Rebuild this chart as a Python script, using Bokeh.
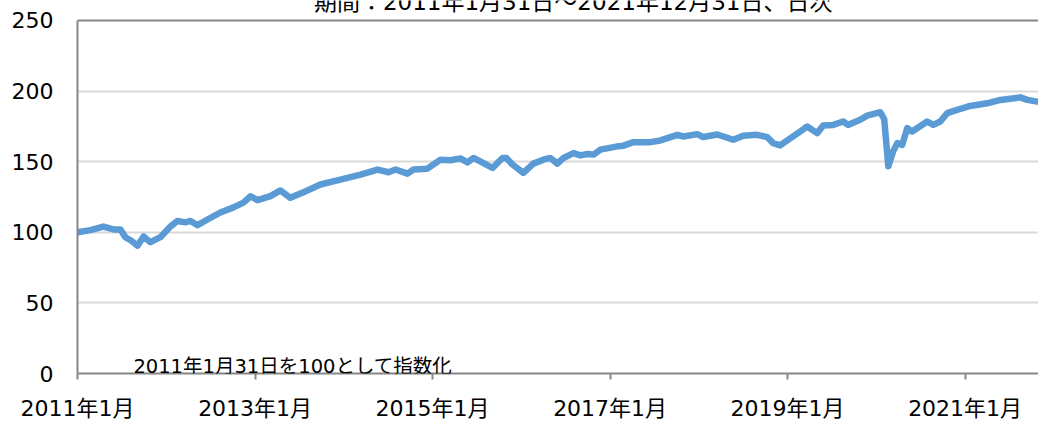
import pandas as pd
from bokeh.plotting import figure
from bokeh.models import FixedTicker, Span, Label, Range1d
from bokeh.embed import file_html
from bokeh.resources import INLINE

# ---- data ----
dates = [
    "2011-01-31", "2011-03-25", "2011-05-18", "2011-06-28", "2011-07-27", "2011-08-16",
    "2011-09-10", "2011-10-05", "2011-10-30", "2011-11-27", "2012-01-07", "2012-02-17",
    "2012-03-17", "2012-04-19", "2012-05-10", "2012-06-08", "2012-07-19", "2012-09-10",
    "2012-11-03", "2012-12-14", "2013-01-12", "2013-02-10", "2013-04-04", "2013-05-15",
    "2013-06-25", "2013-08-18", "2013-10-27", "2014-01-17", "2014-04-10", "2014-06-19",
    "2014-08-03", "2014-09-01", "2014-10-20", "2014-11-14", "2015-01-10", "2015-03-05",
    "2015-04-15", "2015-05-26", "2015-06-24", "2015-07-19", "2015-08-29", "2015-10-05",
    "2015-11-15", "2015-12-01", "2015-12-26", "2016-02-09", "2016-03-21", "2016-05-01",
    "2016-05-30", "2016-06-28", "2016-07-23", "2016-09-02", "2016-10-01", "2016-10-30",
    "2016-11-24", "2016-12-22", "2017-03-02", "2017-03-27", "2017-05-07", "2017-07-16",
    "2017-08-26", "2017-11-04", "2017-11-29", "2018-01-25", "2018-02-18", "2018-04-17",
    "2018-06-22", "2018-08-02", "2018-09-28", "2018-11-08", "2018-12-03", "2019-01-01",
    "2019-01-30", "2019-03-24", "2019-04-22", "2019-06-02", "2019-06-27", "2019-08-07",
    "2019-09-17", "2019-10-07", "2019-11-26", "2019-12-25", "2020-02-17", "2020-03-04",
    "2020-03-21", "2020-04-10", "2020-04-27", "2020-05-17", "2020-06-07", "2020-06-27",
    "2020-08-28", "2020-09-22", "2020-10-21", "2020-11-18", "2020-12-29", "2021-02-21",
    "2021-05-02", "2021-06-25", "2021-09-15", "2021-10-14", "2021-11-24", "2021-12-31",
]
index_values = [
    100.0, 101.5, 104.0, 102.0, 102.0, 96.5,
    94.0, 90.5, 97.0, 93.0, 96.5, 104.0,
    108.0, 107.0, 108.0, 105.0, 109.0, 114.0,
    117.6, 121.0, 125.5, 122.7, 125.6, 129.6,
    124.4, 128.4, 133.8, 137.3, 140.8, 144.4,
    142.5, 144.4, 141.5, 144.4, 145.0, 151.4,
    151.0, 152.3, 149.5, 152.6, 149.0, 145.5,
    152.6, 152.6, 148.0, 142.0, 148.6, 151.4,
    152.6, 148.6, 152.6, 156.0, 154.4, 155.4,
    155.0, 158.5, 160.8, 161.3, 163.8, 163.8,
    165.0, 169.0, 167.8, 169.5, 167.4, 169.2,
    165.5, 168.3, 169.0, 167.4, 163.1, 161.5,
    165.0, 171.3, 174.9, 170.2, 175.6, 176.0,
    178.4, 176.0, 179.6, 182.6, 185.0, 180.0,
    146.7, 157.3, 163.1, 161.9, 173.7, 171.3,
    178.4, 176.0, 178.4, 184.3, 186.6, 189.4,
    191.3, 193.7, 195.5, 193.7, 192.5, 193.0,
]
tick_dates = ["2011-01-31", "2013-01-31", "2015-01-31", "2017-01-31", "2019-01-31", "2021-01-31"]
tick_labels = ["2011年1月", "2013年1月", "2015年1月", "2017年1月", "2019年1月", "2021年1月"]
y_ticks = [0, 50, 100, 150, 200, 250]
title_text = "期間：2011年1月31日～2021年12月31日、日次"
note_text = "2011年1月31日を100として指数化"
note_date = "2011-09-18"
note_y = 4.7
title_date = "2016-09-01"
title_y = 263.3
y_max = 250


def ms(d):
    return int(pd.Timestamp(d).value // 10**6)


FONT = "DejaVu Sans, Noto Sans CJK JP"
start = ms("2011-01-31")
px_per_day = 177.5 / 730.5
px_per_unit = 1.42
end = start + int(961 / px_per_day * 86400000)
top_pad = 20 / px_per_unit  # room above the 250 line for the (cut) title

p = figure(
    width=1038, height=423,
    x_axis_type="datetime",
    x_range=Range1d(start, end), y_range=Range1d(0, y_max + top_pad),
    output_backend="svg", toolbar_location=None,
    min_border_left=77, min_border_right=0, min_border_top=0, min_border_bottom=48,
)
p.outline_line_color = None
p.background_fill_color = "white"
p.border_fill_color = "white"

p.line([pd.Timestamp(d) for d in dates], index_values,
       line_color="#5B9BD5", line_width=6.5, line_join="round", line_cap="round")

# y axis
p.yaxis.ticker = FixedTicker(ticks=y_ticks)
p.yaxis.bounds = (0, y_max)
p.yaxis.major_tick_out = 0
p.yaxis.major_tick_in = 0
p.yaxis.minor_tick_out = 0
p.yaxis.minor_tick_in = 0
p.yaxis.axis_line_color = "#868686"
p.yaxis.axis_line_width = 2
p.yaxis.major_label_standoff = 24
p.yaxis.major_label_text_font = FONT
p.yaxis.major_label_text_font_size = "22px"
p.yaxis.major_label_text_color = "#000000"

# x axis
p.xaxis.ticker = FixedTicker(ticks=[ms(d) for d in tick_dates])
p.xaxis.major_label_overrides = {ms(d): lab for d, lab in zip(tick_dates, tick_labels)}
p.xaxis.major_tick_out = 6
p.xaxis.major_tick_in = 0
p.xaxis.minor_tick_out = 0
p.xaxis.minor_tick_in = 0
p.xaxis.major_tick_line_color = "#868686"
p.xaxis.major_tick_line_width = 2
p.xaxis.axis_line_color = "#868686"
p.xaxis.axis_line_width = 2
p.xaxis.major_label_standoff = 16
p.xaxis.major_label_text_font = FONT
p.xaxis.major_label_text_font_size = "22px"
p.xaxis.major_label_text_color = "#000000"

# grid
p.xgrid.visible = False
p.ygrid.ticker = FixedTicker(ticks=[50, 100, 150, 200])
p.ygrid.grid_line_color = "#D9D9D9"
p.ygrid.grid_line_width = 2

p.add_layout(Span(location=y_max, dimension="width", line_color="#868686", line_width=2))

p.add_layout(Label(x=ms(note_date), y=note_y, text=note_text,
                   text_font=FONT, text_font_size="19.5px", text_color="#000000",
                   text_align="left", text_baseline="alphabetic"))
p.add_layout(Label(x=ms(title_date), y=title_y, text=title_text,
                   text_font=FONT, text_font_size="23px", text_color="#000000",
                   text_align="center", text_baseline="alphabetic"))

open("out.html", "w").write(file_html(p, INLINE))
